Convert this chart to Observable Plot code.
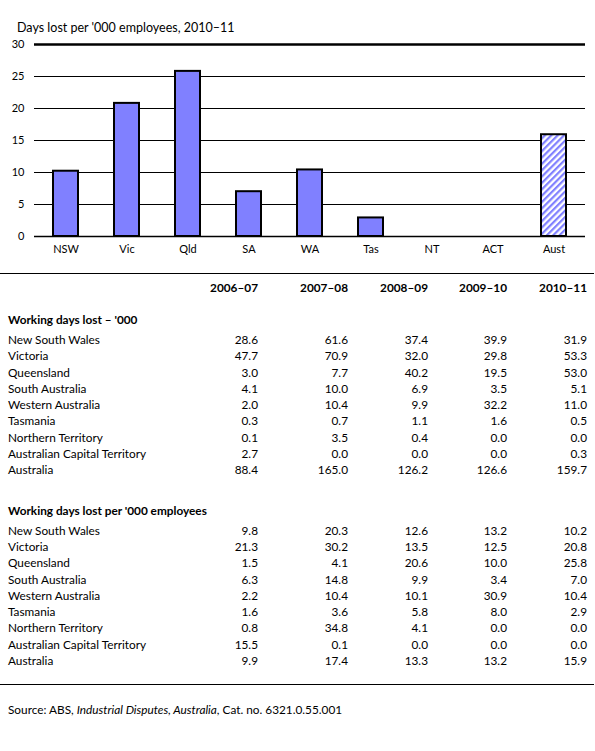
<!DOCTYPE html>
<html>
<head>
<meta charset="utf-8">
<script src="https://cdn.jsdelivr.net/npm/d3@7"></script>
<script src="https://cdn.jsdelivr.net/npm/@observablehq/plot@0.6"></script>
<style>
  body { margin: 0; background: #fff; color: #000; width: 595px; font-family: Lato, "Open Sans", sans-serif; }
  #title { height: 36px; padding-left: 17px; font-size: 12.5px; box-sizing: border-box; line-height: 20px; padding-top: 18px; }
  #chart svg { display: block; }
  .rule { border-top: 1.5px solid #000; width: 594px; }
  table { border-collapse: collapse; table-layout: fixed; width: 595px; font-size: 11.8px; }
  td { padding: 0; height: 16.3px; line-height: 16.3px; white-space: nowrap; text-align: right; }
  td.name { text-align: left; padding-left: 8px; }
  tr.head td { font-weight: bold; height: 22px; line-height: 22px; padding-top: 3px; }
  tr.section td { font-weight: bold; height: 21px; line-height: 17px; vertical-align: top; }
  tr.gap td { height: 12px; }
  tr.gap2 td { height: 23px; }
  #source { font-size: 11.8px; padding-left: 8px; padding-top: 17px; }
</style>
</head>
<body>
<div id="title">Days lost per '000 employees, 2010–11</div>
<div id="chart"></div>
<div id="tablewrap"></div>
<div id="source">Source: ABS, <i>Industrial Disputes, Australia</i>, Cat. no. 6321.0.55.001</div>
<script>
const states = ['New South Wales', 'Victoria', 'Queensland', 'South Australia', 'Western Australia',
  'Tasmania', 'Northern Territory', 'Australian Capital Territory', 'Australia'];
const abbrevs = ['NSW', 'Vic', 'Qld', 'SA', 'WA', 'Tas', 'NT', 'ACT', 'Aust'];
const years = ['2006–07', '2007–08', '2008–09', '2009–10', '2010–11'];

// working days lost ('000), one row per state, one value per year
const daysLost = [
  [28.6, 61.6, 37.4, 39.9, 31.9],
  [47.7, 70.9, 32.0, 29.8, 53.3],
  [3.0, 7.7, 40.2, 19.5, 53.0],
  [4.1, 10.0, 6.9, 3.5, 5.1],
  [2.0, 10.4, 9.9, 32.2, 11.0],
  [0.3, 0.7, 1.1, 1.6, 0.5],
  [0.1, 3.5, 0.4, 0.0, 0.0],
  [2.7, 0.0, 0.0, 0.0, 0.3],
  [88.4, 165.0, 126.2, 126.6, 159.7]
];

// working days lost per '000 employees
const perThousand = [
  [9.8, 20.3, 12.6, 13.2, 10.2],
  [21.3, 30.2, 13.5, 12.5, 20.8],
  [1.5, 4.1, 20.6, 10.0, 25.8],
  [6.3, 14.8, 9.9, 3.4, 7.0],
  [2.2, 10.4, 10.1, 30.9, 10.4],
  [1.6, 3.6, 5.8, 8.0, 2.9],
  [0.8, 34.8, 4.1, 0.0, 0.0],
  [15.5, 0.1, 0.0, 0.0, 0.0],
  [9.9, 17.4, 13.3, 13.2, 15.9]
];

const yTicks = [0, 5, 10, 15, 20, 25, 30];

// chart uses the last year's column
const bars = abbrevs.map((s, i) => ({state: s, value: perThousand[i][4]}));

const chart = Plot.plot({
  width: 595,
  height: 224,
  marginTop: 8,
  marginBottom: 24,
  marginLeft: 34,
  marginRight: 10,
  style: {fontFamily: 'Lato, "Open Sans", sans-serif', fontSize: '11px', color: '#000', background: '#fff'},
  x: {domain: abbrevs, paddingInner: 0.59, paddingOuter: 0.295, label: null},
  y: {domain: [0, 30], label: null},
  marks: [
    Plot.ruleY(yTicks.filter(t => t > 0 && t < 30), {stroke: '#000', strokeWidth: 1}),
    Plot.ruleY([30], {stroke: '#000', strokeWidth: 2.5}),
    Plot.barY(bars.filter(d => d.value > 0 && d.state !== 'Aust'), {x: 'state', y: 'value', fill: '#8080FF', stroke: '#000', strokeWidth: 2}),
    Plot.barY(bars.filter(d => d.state === 'Aust'), {x: 'state', y: 'value', fill: 'url(#hatch)', stroke: '#000', strokeWidth: 2}),
    Plot.ruleY([0], {stroke: '#000', strokeWidth: 1.5}),
    Plot.axisY({ticks: yTicks, tickSize: 0, tickPadding: 10, fontSize: 11}),
    Plot.axisX({tickSize: 0, tickPadding: 9, fontSize: 11})
  ]
});

// diagonal hatch for the Australia bar
const pat = d3.select(chart).insert('defs', ':first-child')
  .append('pattern')
  .attr('id', 'hatch')
  .attr('patternUnits', 'userSpaceOnUse')
  .attr('width', 4.5)
  .attr('height', 4.5)
  .attr('patternTransform', 'rotate(45)');
pat.append('rect').attr('width', 4.5).attr('height', 4.5).attr('fill', '#fff');
pat.append('rect').attr('width', 2.2).attr('height', 4.5).attr('fill', '#8080FF');

d3.select('#chart').append(() => chart);

// table below the chart
const wrap = d3.select('#tablewrap').style('margin-top', '13px');
wrap.append('div').attr('class', 'rule');
const table = wrap.append('table');
const cg = table.append('colgroup');
[170, 88, 90, 80, 79, 80, 8].forEach(w => cg.append('col').style('width', w + 'px'));

const head = table.append('tr').attr('class', 'head');
head.append('td').attr('class', 'name');
years.forEach(y => head.append('td').text(y));
head.append('td');

function section(label, rows, gapClass) {
  table.append('tr').attr('class', gapClass).append('td').attr('colspan', 7);
  const s = table.append('tr').attr('class', 'section');
  s.append('td').attr('class', 'name').attr('colspan', 7).text(label);
  rows.forEach((r, i) => {
    const tr = table.append('tr');
    tr.append('td').attr('class', 'name').text(states[i]);
    r.forEach(v => tr.append('td').text(v.toFixed(1)));
    tr.append('td');
  });
}
section("Working days lost – '000", daysLost, 'gap');
section("Working days lost per '000 employees", perThousand, 'gap2');

wrap.append('div').style('height', '15px');
wrap.append('div').attr('class', 'rule');
</script>
</body>
</html>
